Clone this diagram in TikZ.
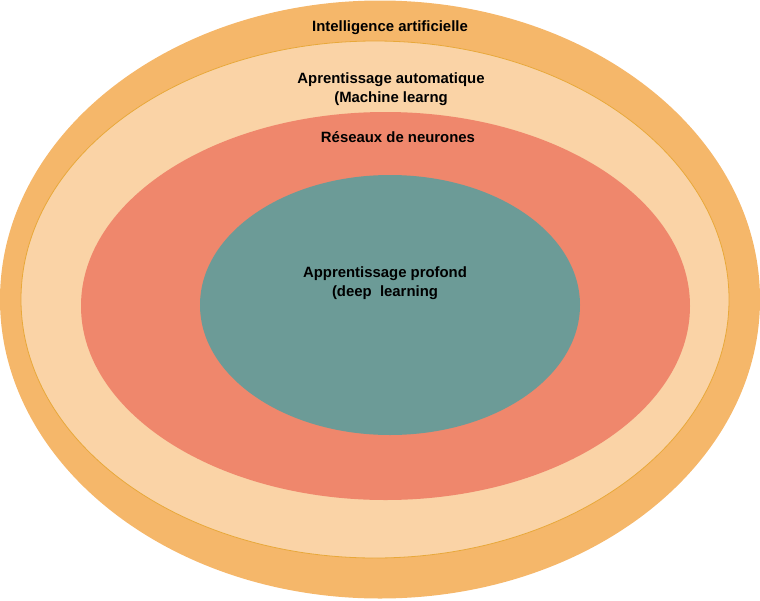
\documentclass[tikz,border=0pt]{standalone}
\usepackage{fontspec}
\setmainfont{Liberation Sans}
\definecolor{cOuter}{HTML}{F5B76A}
\definecolor{cMid}{HTML}{FAD3A6}
\definecolor{cMidLine}{HTML}{E8A83A}
\definecolor{cNet}{HTML}{EF876C}
\definecolor{cDeep}{HTML}{6C9B97}
\tikzset{
  lbl/.style={font=\bfseries\fontsize{14.9}{18.5}\selectfont, text=black, align=center, inner sep=0pt}
}
\begin{document}
\begin{tikzpicture}[x=1pt,y=-1pt]
\useasboundingbox (0,0) rectangle (760,600);
\fill[cOuter] (380,299.5) ellipse [x radius=380, y radius=299];
\filldraw[fill=cMid, draw=cMidLine, line width=0.8pt] (375,299.5) ellipse [x radius=354, y radius=258.5];
\fill[cNet] (385.5,306) ellipse [x radius=304.5, y radius=194];
\fill[cDeep] (390,305) ellipse [x radius=190, y radius=130];
\node[lbl] (ai) at (390,27.5) {Intelligence artificielle};
\node[lbl] (ml) at (391,89) {Aprentissage automatique\\(Machine learng};
\node[lbl] (nn) at (398,137.5) {Réseaux de neurones};
\node[lbl] (dl) at (385,283) {Apprentissage profond\\(deep\ \ learning};
\end{tikzpicture}
\end{document}
